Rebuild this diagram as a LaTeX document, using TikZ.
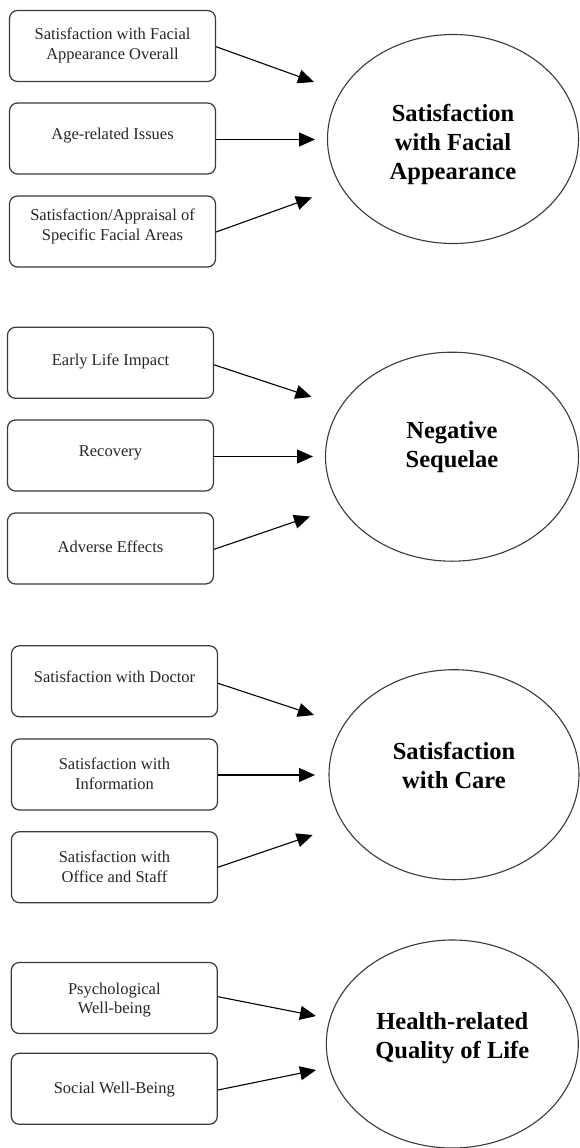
\documentclass[tikz,border=0pt]{standalone}
\usepackage{fontspec}
\setmainfont{Liberation Serif}
\usetikzlibrary{shapes.geometric,arrows.meta}
\definecolor{boxgray}{HTML}{3A3A3A}
\definecolor{txtgray}{HTML}{262626}
\begin{document}
\begin{tikzpicture}[x=1pt,y=-1pt,
  box/.style={draw=boxgray, line width=1.2pt, rounded corners=8pt, minimum width=206pt, minimum height=71pt, inner sep=0pt},
  btxt/.style={font=\fontsize{16.5}{19.5}\selectfont, text=txtgray, align=center, inner sep=0pt},
  ell/.style={draw=boxgray, line width=1.1pt, ellipse, inner sep=0pt},
  etxt/.style={font=\fontsize{24.5}{29}\selectfont\bfseries, text=black, align=center, inner sep=0pt},
  arr/.style={draw=black, line width=1.1pt, -{Triangle[length=16pt,width=14pt]}}]
\useasboundingbox[fill=white] (0,0) rectangle (580,1148);

% ---------- Section 1 ----------
\node[box] (b11) at (112.5,46) {};
\node[box] (b12) at (112.5,138.5) {};
\node[box] (b13) at (112.5,231.5) {};
\node[btxt] (t11) at (112.5,45.4) {Satisfaction with Facial\\Appearance Overall};
\node[btxt] (t12) at (112.5,136) {Age-related Issues};
\node[btxt] (t13) at (112.5,226.4) {Satisfaction/Appraisal of\\Specific Facial Areas};
\node[ell, minimum width=251pt, minimum height=209pt] (e1) at (453,139) {};
\node[etxt] (et1) at (453,144.3) {Satisfaction\\with Facial\\Appearance};
\coordinate (p11) at (314,82);
\coordinate (p12) at (315,139.5);
\coordinate (p13) at (312,197.5);
\draw[arr] ([yshift=-0.7pt]b11.east) -- (p11);
\draw[arr] ([yshift=-1pt]b12.east) -- (p12);
\draw[arr] ([yshift=-0.5pt]b13.east) -- (p13);

% ---------- Section 2 ----------
\node[box] (b21) at (110.5,362.8) {};
\node[box] (b22) at (110.5,455.5) {};
\node[box] (b23) at (110.5,548.5) {};
\node[btxt] (t21) at (110.5,361) {Early Life Impact};
\node[btxt] (t22) at (110.5,453) {Recovery};
\node[btxt] (t23) at (110.5,547) {Adverse Effects};
\node[ell, minimum width=253pt, minimum height=209pt] (e2) at (452,456.7) {};
\node[etxt] (et2) at (452,447.2) {Negative\\Sequelae};
\coordinate (p21) at (311.5,397);
\coordinate (p22) at (313,456.5);
\coordinate (p23) at (310,516.5);
\draw[arr] ([yshift=-2pt]b21.east) -- (p21);
\draw[arr] ([yshift=-1pt]b22.east) -- (p22);
\draw[arr] ([yshift=-0.8pt]b23.east) -- (p23);

% ---------- Section 3 ----------
\node[box] (b31) at (114.5,681.3) {};
\node[box] (b32) at (114.5,774.5) {};
\node[box] (b33) at (114.5,867.2) {};
\node[btxt] (t31) at (114.5,677) {Satisfaction with Doctor};
\node[btxt] (t32) at (114.5,773.8) {Satisfaction with\\Information};
\node[btxt] (t33) at (114.5,867) {Satisfaction with\\Office and Staff};
\node[ell, minimum width=250pt, minimum height=210pt] (e3) at (454,774.7) {};
\node[etxt] (et3) at (454,765.8) {Satisfaction\\with Care};
\coordinate (p31) at (314,715);
\coordinate (p32) at (315,775);
\coordinate (p33) at (312.7,835);
\draw[arr] ([yshift=-2pt]b31.east) -- (p31);
\draw[arr] ([yshift=-0.5pt]b32.east) -- (p32);
\draw[arr] (b33.east) -- (p33);

% ---------- Section 4 ----------
\node[box] (b41) at (114.3,998) {};
\node[box] (b42) at (114.3,1088.8) {};
\node[btxt] (t41) at (114.3,1000) {Psychological\\Well-being};
\node[btxt] (t42) at (114.3,1089.3) {Social Well-Being};
\node[ell, minimum width=252pt, minimum height=208pt] (e4) at (452.3,1044) {};
\node[etxt] (et4) at (452.3,1038) {Health-related\\Quality of Life};
\coordinate (p41) at (316,1016);
\coordinate (p42) at (316,1070);
\draw[arr] ([yshift=1.3pt]b41.east) -- (p41);
\draw[arr] ([yshift=-1.2pt]b42.east) -- (p42);
\end{tikzpicture}
\end{document}
